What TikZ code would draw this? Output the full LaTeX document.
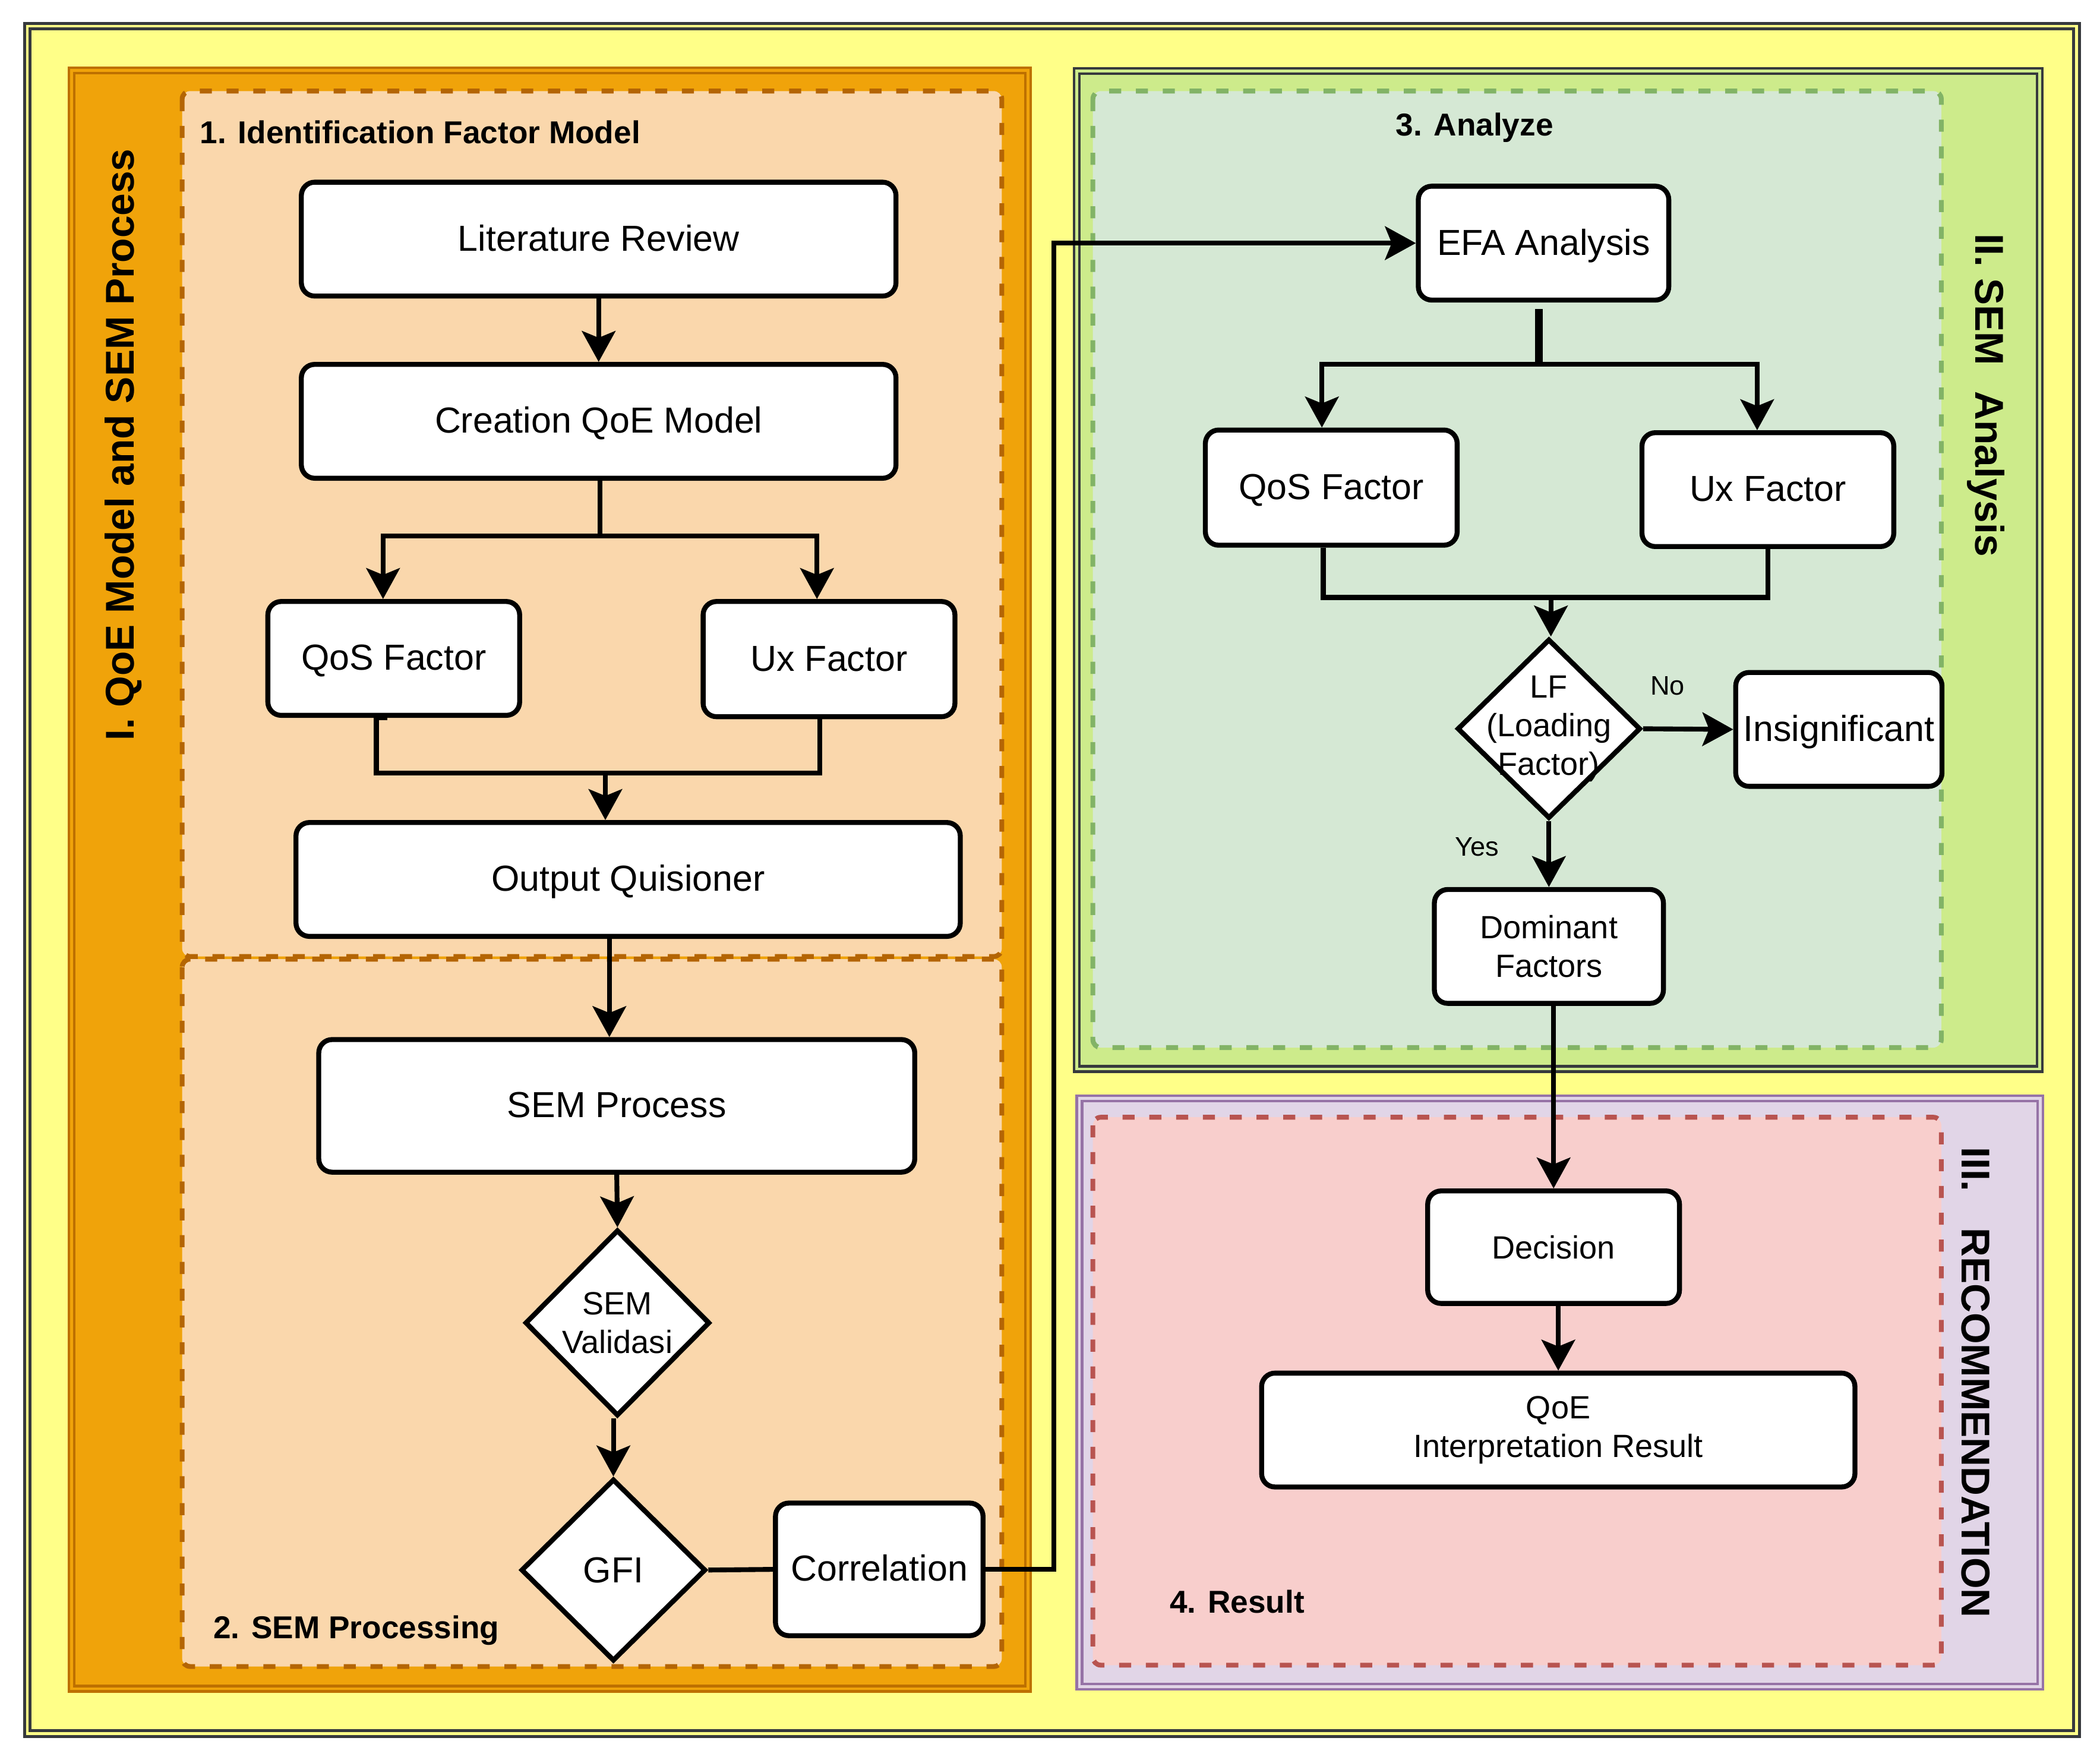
\documentclass[tikz,border=0pt]{standalone}
\usepackage{fontspec}
\setmainfont{Liberation Sans}
\usetikzlibrary{arrows.meta,shapes.geometric,calc}
\definecolor{yellowf}{HTML}{FFFF88}
\definecolor{framec}{HTML}{36393D}
\definecolor{orangef}{HTML}{F0A30A}
\definecolor{orangeb}{HTML}{BD7000}
\definecolor{peachf}{HTML}{FAD7AC}
\definecolor{peachb}{HTML}{B46504}
\definecolor{limef}{HTML}{CDEB8B}
\definecolor{greenf}{HTML}{D5E8D4}
\definecolor{greenb}{HTML}{82B366}
\definecolor{lilacf}{HTML}{E1D5E7}
\definecolor{lilacb}{HTML}{9673A6}
\definecolor{redf}{HTML}{F8CECC}
\definecolor{redb}{HTML}{B85450}
\tikzset{
  panel/.style 2 args={draw=#1, line width=1pt, double=#2, double distance=1pt, fill=#2},
  group/.style 2 args={draw=#1, fill=#2, line width=1.8pt, dash pattern=on 4.5pt off 5.5pt, rounded corners=3pt},
  basebox/.style={draw, line width=1.85pt, fill=white, rounded corners=5pt, inner sep=0pt, align=center},
  stepbox/.style={basebox, font=\fontsize{13.5}{16}\selectfont, text height=12pt, text depth=3.2pt},
  smallbox/.style={basebox, font=\fontsize{12}{14.5}\selectfont},
  decide/.style={diamond, draw, line width=1.85pt, fill=white, inner sep=0pt},
  dtext/.style={align=center, inner sep=0pt, font=\fontsize{12}{14.5}\selectfont},
  sect/.style={inner sep=0pt, font=\bfseries\fontsize{11.8}{14}\selectfont},
  vtitle/.style={inner sep=0pt, font=\bfseries\fontsize{15}{18}\selectfont},
  conn/.style={line width=1.8pt},
  arr/.style={conn, -{Stealth[length=11.5pt, width=12.5pt, inset=2.5pt]}},
  yn/.style={inner sep=0pt, font=\fontsize{10}{12}\selectfont}
}
\begin{document}
\begin{tikzpicture}[x=0.5pt, y=-0.5pt]
\useasboundingbox (0,0) rectangle (1568,1316);
\fill[white] (0,0) rectangle (1568,1316);
% frames
\draw[panel={framec}{yellowf}, line width=1.1pt] (20.5,19.5) rectangle (1550.5,1294);
\draw[panel={orangeb}{orangef}] (53.5,52.5) rectangle (767.5,1260.5);
\draw[panel={framec}{limef}] (804,53) rectangle (1523,798);
\draw[panel={lilacb}{lilacf}] (806,820) rectangle (1523.5,1259);
% groups
\draw[group={peachb}{peachf}] (136,68) rectangle (748,714);
\draw[group={peachb}{peachf}] (136,716) rectangle (748,1244);
\draw[group={greenb}{greenf}] (816,68) rectangle (1449.5,782);
\draw[group={redb}{redf}] (816,834) rectangle (1449.5,1243);
% titles
\node[vtitle, rotate=90] (t1) at (92,332) {I. QoE Model and SEM Process};
\node[vtitle, rotate=-90] (t2) at (1483,295) {II. SEM\hspace{0.65em}Analysis};
\node[vtitle, rotate=-90] (t3) at (1475,1032) {III.\hspace{0.9em}RECOMMENDATION};
\node[sect, anchor=base west] (s1t) at (149,107) {1. Identification Factor Model};
\node[sect, anchor=base west] (s2t) at (159,1223) {2. SEM Processing};
\node[sect, anchor=base] (s3t) at (1101,101.5) {3. Analyze};
\node[sect, anchor=base west] (s4t) at (873,1204) {4. Result};
% left nodes
\node[stepbox, minimum width=222pt, minimum height=42.5pt] (lit) at (447,178.5) {Literature Review};
\node[stepbox, minimum width=222pt, minimum height=42.5pt] (cre) at (447,314.5) {Creation QoE Model};
\node[stepbox, minimum width=94pt, minimum height=42.5pt] (qosL) at (294,491.5) {QoS Factor};
\node[stepbox, minimum width=94pt, minimum height=43pt] (uxL) at (619,492) {Ux Factor};
\node[stepbox, minimum width=248pt, minimum height=42.5pt] (outp) at (469,656.5) {Output Quisioner};
\node[stepbox, minimum width=222.5pt, minimum height=49.5pt] (semp) at (460.5,825.5) {SEM Process};
\node[decide, minimum width=69pt, minimum height=69.5pt] (val) at (461,987.5) {};
\node[dtext] (valt) at (val.center) {SEM\\Validasi};
\node[decide, minimum width=69pt, minimum height=68pt] (gfi) at (458,1172) {};
\node[dtext, font=\fontsize{13.5}{16}\selectfont] (gfit) at (gfi.center) {GFI};
\node[stepbox, minimum width=77.5pt, minimum height=49.5pt] (corr) at (656.5,1171.5) {Correlation};
% right nodes
\node[stepbox, minimum width=93.5pt, minimum height=42.5pt] (efa) at (1152.5,181.5) {EFA Analysis};
\node[stepbox, minimum width=94pt, minimum height=43pt] (qosR) at (994,364) {QoS Factor};
\node[stepbox, minimum width=94pt, minimum height=42.5pt] (uxR) at (1320,365.5) {Ux Factor};
\node[decide, minimum width=68.5pt, minimum height=67pt] (lf) at (1156.5,544) {};
\node[dtext] (lft) at (lf.center) {LF\\(Loading\\Factor)};
\node[stepbox, minimum width=77pt, minimum height=42.5pt] (ins) at (1373,544.5) {Insignificant};
\node[smallbox, minimum width=85.5pt, minimum height=42.5pt] (dom) at (1156.5,706.5) {Dominant\\Factors};
\node[smallbox, minimum width=94pt, minimum height=42pt] (dec) at (1160,931) {Decision};
\node[smallbox, minimum width=221.5pt, minimum height=42.5pt] (qoe) at (1163.5,1067.5) {QoE\\Interpretation Result};
% left connectors
\coordinate (sp1) at (448,400);
\coordinate (mg1) at (452,577);
\draw[arr] (lit.south) -- (cre.north);
\draw[conn] (sp1 |- cre.south) -- (sp1);
\draw[arr] (sp1) -| ([xshift=-4pt]qosL.north);
\draw[arr] (sp1) -| ([xshift=-4.5pt]uxL.north);
\draw[conn] ([xshift=-2.5pt]qosL.south) -- ++(-8,0) |- (mg1) -| ([xshift=-3.5pt]uxL.south);
\draw[arr] (mg1) -- (mg1 |- outp.north);
\draw[arr] ([xshift=-7pt]outp.south) -- ([xshift=-2.75pt]semp.north);
\draw[arr] (semp.south) -- (val.north);
\draw[arr] ([xshift=-1.5pt]val.south) -- (gfi.north);
\draw[conn] (gfi.east) -- (corr.west);
\draw[arr] (corr.east) -- ++(51,0) |- (efa.west);
% right connectors
\coordinate (sp2) at (1149,272);
\coordinate (mg2) at (1158,446);
\draw[conn, line width=2.8pt] ([xshift=-1.75pt,yshift=-2.5pt]efa.south) -- (sp2);
\draw[arr] (sp2) -| ([xshift=-3.5pt]qosR.north);
\draw[arr] (sp2) -| ([xshift=-4pt]uxR.north);
\draw[conn] ([xshift=-3pt]qosR.south) |- (mg2) -| (uxR.south);
\draw[arr] (mg2) -- (mg2 |- lf.north);
\draw[arr] (lf.east) -- (ins.west);
\draw[arr] (lf.south) -- (dom.north);
\draw[arr] ([xshift=1.75pt]dom.south) -- (dec.north);
\draw[arr] ([xshift=1.75pt]dec.south) -- (qoe.north);
\node[yn] (no) at (1245,512) {No};
\node[yn] (yes) at (1103,632) {Yes};
\end{tikzpicture}
\end{document}
